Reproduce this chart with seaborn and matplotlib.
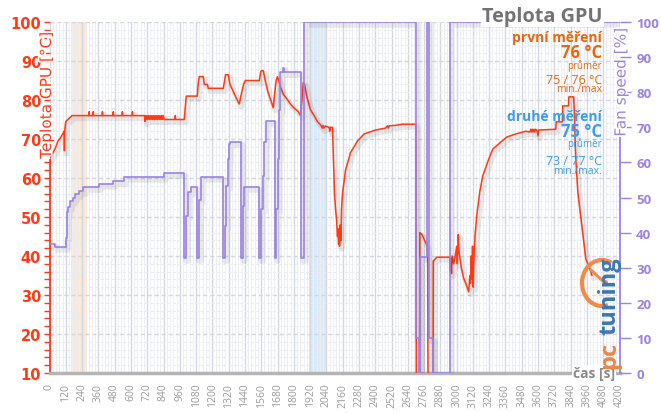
import numpy as np
import pandas as pd
import matplotlib
matplotlib.use("Agg")
import matplotlib.pyplot as plt
import seaborn as sns
from matplotlib import patheffects as pe
from matplotlib.patches import Arc, Circle

# ---------------- data ----------------
temp_time = [0, 18, 41, 63, 85, 100, 107, 110, 113, 120, 135, 150, 166, 290, 292, 294, 320, 322, 324,
             388, 390, 392, 468, 470, 472, 535, 537, 539, 609, 611, 613, 700, 703, 706, 712, 718, 724,
             730, 736, 742, 748, 754, 760, 766, 772, 778, 784, 790, 796, 802, 808, 814, 820, 826, 832,
             838, 844, 850, 925, 927, 929, 993, 1000, 1008, 1089, 1095, 1103, 1133, 1140, 1163, 1170,
             1281, 1290, 1297, 1317, 1330, 1350, 1370, 1390, 1399, 1410, 1430, 1443, 1546, 1555, 1561,
             1575, 1590, 1610, 1630, 1649, 1660, 1670, 1679, 1690, 1700, 1723, 1745, 1775, 1800, 1834,
             1849, 1860, 1870, 1880, 1895, 1923, 1950, 1974, 2000, 2010, 2016, 2022, 2033, 2060, 2065,
             2070, 2085, 2092, 2100, 2108, 2115, 2122, 2126, 2130, 2134, 2137, 2142, 2147, 2152, 2159,
             2181, 2218, 2270, 2318, 2403, 2476, 2490, 2496, 2502, 2550, 2600, 2700, 2703, 2727, 2729,
             2745, 2764, 2778, 2786, 2790, 2826, 2828, 2853, 2949, 2953, 2957, 2962, 2967, 2978, 2990,
             3000, 3005, 3012, 3018, 3035, 3050, 3067, 3089, 3097, 3102, 3108, 3112, 3117, 3122, 3126,
             3135, 3148, 3170, 3192, 3237, 3266, 3325, 3370, 3436, 3510, 3540, 3546, 3552, 3558, 3564,
             3570, 3576, 3582, 3590, 3600, 3603, 3731, 3733, 3780, 3782, 3825, 3827, 3862, 3866, 3871,
             3878, 3893, 3923, 3952, 3982, 3997]
temp_value = [65, 66, 67.5, 69.5, 70.5, 71.5, 72, 67, 72.5, 74.5, 75, 75.5, 76, 76, 77, 76, 76, 77, 76,
              76, 77, 76, 76, 77, 76, 76, 77, 76, 76, 77, 76, 76, 74.5, 76, 75, 76, 75,
              76, 75, 76, 75, 76, 75, 76, 75, 76, 75, 76, 75, 76, 75, 76, 75, 76, 75,
              76, 75, 75, 75, 76, 75, 75, 78, 81, 81, 84, 86, 86, 84, 84, 83,
              83, 85, 86.5, 86.5, 84, 82.5, 81, 79.5, 79, 81, 84, 85, 85, 87, 87.5,
              87.5, 85, 82, 80, 78, 82, 85, 86, 85, 83.5, 81.5, 80.5, 79, 78, 77,
              76, 80, 84.5, 84, 81, 77.5, 76, 74.5, 73.5, 72.8, 73.5, 72.8, 73.3, 73, 72,
              73, 73, 65, 56, 52, 49.5, 45, 47, 43, 46, 42.5, 48, 44, 52, 56,
              62, 66.5, 69.5, 71.3, 72.3, 72.8, 73.4, 72.8, 73.4, 73.5, 73.8, 73.8, 0, 0, 46,
              45.5, 44, 43, 40.5, 0, 0, 38.7, 39.7, 39.7, 36, 39.5, 35.5, 40, 38, 40,
              42.5, 38, 45.5, 41, 37, 34.5, 33, 30.8, 35, 33, 40, 34, 42.5, 32, 38,
              45, 50.3, 56.4, 60.5, 64.9, 67.4, 69.2, 70.5, 71.3, 72, 71.8, 72.5, 71.8, 72.5, 71.8,
              72.5, 71.8, 72.5, 72.3, 70.8, 72.3, 72.5, 74.4, 74.4, 78.5, 78.5, 80.8, 80.8, 78, 72,
              65, 56.4, 47.7, 39.2, 36.7, 35]

fan_time = [0, 41, 122, 129, 137, 151, 170, 190, 215, 250, 365, 469, 550, 845, 993, 1008, 1022, 1040,
            1089, 1100, 1115, 1281, 1292, 1302, 1312, 1320, 1328, 1413, 1424, 1436, 1546, 1558, 1570,
            1584, 1598, 1664, 1670, 1680, 1690, 1702, 1720, 1728, 1854, 1873, 2703, 2725, 2731, 2779,
            2796, 2826, 2950, 4200]
fan_value = [36.8, 35.9, 38.5, 45.9, 47.3, 49, 49.9, 51, 51.8, 53, 53.8, 54.7, 55.8, 57, 32.8, 44.7, 51.5, 53,
             32.8, 49.3, 55.8, 32.8, 41.9, 53.3, 60.9, 65.2, 65.8, 32.8, 47.6, 53, 32.8, 46.7, 56.1,
             65.8, 71.8, 32.8, 46.7, 60.9, 75, 85.8, 87, 85.8, 32.8, 100, 10, 0, 33, 100,
             10, 0, 100, 100]

x_ticks = list(range(0, 4201, 120))
temp_ticks = list(range(10, 101, 10))
fan_ticks = list(range(0, 101, 10))
band_first = (160, 275)
band_second = (1915, 2035)

title = "Teplota GPU"
temp_label = "Teplota GPU [°C]"
fan_label = "Fan speed [%]"
time_label = "čas [s]"
legend_first = ["první měření", "76 °C", "průměr", "75 / 76 °C", "min./max"]
legend_second = ["druhé měření", "75 °C", "průměr", "73 / 77 °C", "min./max."]

# ---------------- style ----------------
RED = "#FF3A14"
PURPLE = "#9B82E4"
ORANGE = "#EC640E"
BLUE = "#3D9AF2"
GRAY = "#9A9A9A"

sns.set_style("white")
plt.rcParams["font.family"] = ["Open Sans", "DejaVu Sans"]

W, H = 661, 414
fig = plt.figure(figsize=(W / 100, H / 100), dpi=100)
L, R, T, B = 49.5, 619.5, 23, 374
ax = fig.add_axes([L / W, 1 - B / H, (R - L) / W, (B - T) / H])
ax.set_xlim(0, 4200)
ax.set_ylim(10, 100)

# bands
ax.axvspan(*band_first, color="#FBE4CF", alpha=0.85, lw=0, zorder=0.5)
ax.axvspan(*band_second, color="#D4E7FA", alpha=0.85, lw=0, zorder=0.5)

# grid
ax.set_xticks(x_ticks)
ax.set_xticks(np.arange(0, 4201, 24), minor=True)
ax.set_yticks(temp_ticks)
ax.set_yticks(np.arange(10, 101, 2), minor=True)
ax.grid(which="major", axis="x", color="#D3D7E1", lw=1, zorder=0)
ax.grid(which="minor", axis="x", color="#EDEFF4", lw=0.8, zorder=0)
ax.grid(which="major", axis="y", color="#D3D7E1", lw=1, ls=(0, (3, 2)), zorder=0)
ax.grid(which="minor", axis="y", color="#EAECF1", lw=0.8, ls=(0, (3, 2)), zorder=0)
ax.set_axisbelow(True)

shadow = [pe.SimpleLineShadow(offset=(1.5, -2), shadow_color="#000000", alpha=0.08, linewidth=4), pe.Normal()]

temp_df = pd.DataFrame({"t": temp_time, "temp": temp_value})
sns.lineplot(data=temp_df, x="t", y="temp", ax=ax, color=RED, lw=1.1, estimator=None, sort=False,
             path_effects=shadow, zorder=3)

ax2 = ax.twinx()
ax2.set_ylim(0, 100)
fan_df = pd.DataFrame({"t": fan_time, "fan": fan_value})
sns.lineplot(data=fan_df, x="t", y="fan", ax=ax2, color=PURPLE, lw=1.2, estimator=None, sort=False,
             drawstyle="steps-post", path_effects=shadow, zorder=3)
ax2.set_xlim(0, 4200)

# spines & ticks (spines are interrupted where the axis titles sit)
for s in ["top", "right"]:
    ax.spines[s].set_visible(False)
ax.spines["left"].set_color(RED)
ax.spines["left"].set_linewidth(1.3)
ax.spines["left"].set_bounds(10, 64.5)
ax.spines["bottom"].set_color("#B4B4B4")
ax.spines["bottom"].set_linewidth(2.5)
for s in ["top", "left", "bottom"]:
    ax2.spines[s].set_visible(False)
ax2.spines["right"].set_color(PURPLE)
ax2.spines["right"].set_linewidth(1.3)
ax2.spines["right"].set_bounds(0, 67.5)

ax.set_xlabel("")
ax.set_ylabel("")
ax2.set_ylabel("")
ax.tick_params(axis="y", which="both", direction="out", length=4, width=1, color=RED,
               labelcolor=RED, labelsize=10.5, pad=2)
ax.set_yticklabels([str(v) for v in temp_ticks], fontweight="bold", family="DejaVu Sans")
ax.tick_params(axis="x", which="major", direction="out", length=4, width=1, color="#B4B4B4",
               labelcolor=GRAY, labelsize=7.5, labelrotation=90, pad=3)
ax.tick_params(axis="x", which="minor", length=0)
ax.set_xticklabels([str(v) for v in x_ticks])
ax2.set_yticks(fan_ticks)
ax2.tick_params(axis="y", which="major", direction="out", length=8, width=1, color=PURPLE,
                labelcolor=PURPLE, labelsize=9.5, pad=4)
ax2.set_yticklabels([str(v) for v in fan_ticks], fontweight="bold", family="Open Sans")

# overlay for texts in pixel coordinates
ov = fig.add_axes([0, 0, 1, 1], zorder=10)
ov.set_xlim(0, W)
ov.set_ylim(H, 0)
ov.axis("off")
ov.patch.set_alpha(0)

halo = [pe.withStroke(linewidth=2.5, foreground="white")]
ov.text(603, 17, title, ha="right", va="center", fontsize=14.3, fontweight="bold", color="#737373",
        bbox=dict(facecolor="white", edgecolor="none", pad=1))
ov.text(46.5, 96, temp_label, rotation=90, ha="center", va="center", fontsize=11,
        color=RED, family="DejaVu Sans", path_effects=halo)
ov.text(621, 83, fan_label, rotation=90, ha="center", va="center", fontsize=11,
        color=PURPLE, family="DejaVu Sans", path_effects=halo)
ov.text(594, 374, time_label, ha="center", va="center", fontsize=10, fontweight="bold", color="#8A8A8A",
        bbox=dict(facecolor="white", edgecolor="none", pad=0.5))

def legend(lines, color, ys):
    sizes = [10, 12, 7, 9, 7.5]
    weights = ["bold", "bold", "normal", "normal", "normal"]
    for txt, y, s, w in zip(lines, ys, sizes, weights):
        ov.text(602, y, txt, ha="right", va="center", fontsize=s, fontweight=w, color=color)

legend(legend_first, ORANGE, [38, 53, 66, 80, 90])
legend(legend_second, BLUE, [117, 132, 144, 162, 172])

# logo
ov.add_patch(Arc((602, 284), 40, 46, theta1=75, theta2=295, color="#F4894A", lw=3))
ov.plot([605, 591], [284, 271], color="#F4894A", lw=2.2, solid_capstyle="round")
ov.add_patch(Circle((605, 284), 2.4, color="#F4894A"))
ov.text(609, 369, "pc", rotation=90, ha="center", va="bottom", fontsize=17, fontweight="bold", color="#F08443")
ov.text(609, 335, "tuning", rotation=90, ha="center", va="bottom", fontsize=17, fontweight="bold", color="#3C78B4")

fig.savefig("out.png", dpi=100)
